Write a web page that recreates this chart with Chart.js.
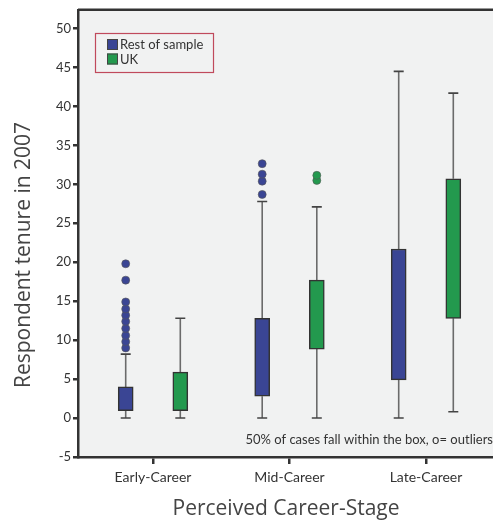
<!DOCTYPE html>
<html>
<head>
<meta charset="utf-8">
<script src="https://cdn.jsdelivr.net/npm/chart.js@4/dist/chart.umd.min.js"></script>
<style>
  html, body { margin: 0; padding: 0; background: #fff; overflow: hidden; }
  #wrap { position: relative; width: 493px; height: 524px; overflow: hidden; }
</style>
</head>
<body>
<div id="wrap"><canvas id="grafico"></canvas></div>
<script>
// ---------------------------------------------- DATOS ----------------------------------------------

const etapas = ["Early-Career", "Mid-Career", "Late-Career"];
const series = ["Rest of sample", "UK"];
const yTicks = [-5, 0, 5, 10, 15, 20, 25, 30, 35, 40, 45, 50];

// Rest of sample
const restMin = [0, 0, 0];
const restQ1 = [0.95, 2.8, 4.9];
const restQ3 = [4.0, 12.8, 21.7];
const restMax = [8.2, 27.8, 44.5];
const restOutliers = [
    [9.0, 9.8, 10.6, 11.5, 12.4, 13.2, 14.0, 14.9, 17.7, 19.8],
    [28.7, 30.4, 31.3, 32.65],
    []
];

// UK
const ukMin = [0, 0, 0.8];
const ukQ1 = [0.95, 8.85, 12.8];
const ukQ3 = [5.9, 17.7, 30.7];
const ukMax = [12.8, 27.1, 41.7];
const ukOutliers = [
    [],
    [30.5, 31.15],
    []
];

const nota = "50% of cases fall within the box, o= outliers";
const tituloY = "Respondent tenure in 2007";
const tituloX = "Perceived Career-Stage";

// ---------------------------------------------- ESTILO ----------------------------------------------

const azul = '#3a4594';
const verde = '#23994e';
const fondo = '#f1f2f2';
const fuente = 'Lato';
const fuenteTitulo = 'Open Sans';
const desplazamiento = 0.2; // separación de cada grupo respecto al centro de la categoría
const ancho = 493;

function cajas(q1, q3, signo) {
    return etapas.map((e, i) => ({ x: i + signo * desplazamiento, y: [q1[i], q3[i]] }));
}

const grupos = [
    { min: restMin, max: restMax, out: restOutliers, color: azul },
    { min: ukMin, max: ukMax, out: ukOutliers, color: verde }
];

// ------------------------------------------- PLUGIN BOXPLOT ----------------------------------------------

const pluginBoxplot = {
    id: 'boxplot',
    beforeDraw(chart) {
        const { ctx, chartArea } = chart;
        ctx.save();
        ctx.fillStyle = fondo;
        ctx.fillRect(chartArea.left, chartArea.top, chartArea.right - chartArea.left, chartArea.bottom - chartArea.top);
        ctx.restore();
    },
    beforeDatasetsDraw(chart) {
        const { ctx } = chart;
        const y = chart.scales.y;
        ctx.save();
        grupos.forEach((g, d) => {
            const meta = chart.getDatasetMeta(d);
            meta.data.forEach((bar, i) => {
                const x = bar.x;
                const q1 = chart.data.datasets[d].data[i].y[0];
                const q3 = chart.data.datasets[d].data[i].y[1];
                ctx.strokeStyle = '#6b6b6b';
                ctx.lineWidth = 1.6;
                ctx.beginPath();
                ctx.moveTo(x, y.getPixelForValue(q3));
                ctx.lineTo(x, y.getPixelForValue(g.max[i]));
                ctx.moveTo(x, y.getPixelForValue(q1));
                ctx.lineTo(x, y.getPixelForValue(g.min[i]));
                ctx.stroke();
                ctx.strokeStyle = '#444';
                ctx.lineWidth = 1.6;
                ctx.beginPath();
                ctx.moveTo(x - 5, y.getPixelForValue(g.max[i]));
                ctx.lineTo(x + 5, y.getPixelForValue(g.max[i]));
                ctx.moveTo(x - 5, y.getPixelForValue(g.min[i]));
                ctx.lineTo(x + 5, y.getPixelForValue(g.min[i]));
                ctx.stroke();
            });
        });
        ctx.restore();
    },
    afterDatasetsDraw(chart) {
        const { ctx } = chart;
        const y = chart.scales.y;
        ctx.save();
        // outliers
        grupos.forEach((g, d) => {
            const meta = chart.getDatasetMeta(d);
            meta.data.forEach((bar, i) => {
                g.out[i].forEach(v => {
                    ctx.beginPath();
                    ctx.arc(bar.x, y.getPixelForValue(v), 4, 0, Math.PI * 2);
                    ctx.fillStyle = g.color;
                    ctx.fill();
                    ctx.strokeStyle = '#555';
                    ctx.lineWidth = 0.6;
                    ctx.stroke();
                });
            });
        });
        ctx.restore();
    },
    afterDraw(chart) {
        const { ctx, chartArea } = chart;
        ctx.save();

        // el gráfico original está cortado a la derecha: sin borde derecho
        ctx.fillStyle = fondo;
        ctx.fillRect(chartArea.right - 6, chartArea.top + 1.5, 6, chartArea.bottom - chartArea.top - 3);

        // marco superior
        ctx.strokeStyle = '#333';
        ctx.lineWidth = 2.5;
        ctx.beginPath();
        ctx.moveTo(chartArea.left, chartArea.top);
        ctx.lineTo(ancho, chartArea.top);
        ctx.stroke();

        // leyenda
        ctx.strokeStyle = '#c04a5c';
        ctx.lineWidth = 1.2;
        ctx.strokeRect(95.5, 33.5, 118, 39);
        series.forEach((s, k) => {
            const top = 39 + k * 14.5;
            ctx.fillStyle = grupos[k].color;
            ctx.fillRect(107, top, 11, 11);
            ctx.strokeStyle = '#444';
            ctx.lineWidth = 1;
            ctx.strokeRect(107.5, top + 0.5, 10, 10);
            ctx.fillStyle = '#333';
            ctx.font = '13px ' + fuente;
            ctx.textAlign = 'left';
            ctx.textBaseline = 'middle';
            ctx.fillText(s, 120, top + 6);
        });

        // nota
        ctx.fillStyle = '#333';
        ctx.font = '13px ' + fuente;
        ctx.textAlign = 'right';
        ctx.textBaseline = 'middle';
        ctx.fillText(nota, 493, 440);

        // títulos de los ejes
        ctx.fillStyle = '#444';
        ctx.font = '21px "' + fuenteTitulo + '"';
        ctx.textAlign = 'center';
        ctx.textBaseline = 'middle';
        ctx.fillText(tituloX, 286, 509);
        ctx.save();
        ctx.translate(24, 255);
        ctx.rotate(-Math.PI / 2);
        ctx.fillText(tituloY, 0, 0);
        ctx.restore();
        ctx.restore();
    }
};

// ------------------------------------------- GRAFICO ----------------------------------------------

const configBoxplot = {
    type: 'bar',
    data: {
        datasets: [{
            label: series[0],
            data: cajas(restQ1, restQ3, -1),
            backgroundColor: azul,
            borderColor: '#333',
            borderWidth: 1.5,
            borderSkipped: false,
            barThickness: 15,
            grouped: false
        },
        {
            label: series[1],
            data: cajas(ukQ1, ukQ3, 1),
            backgroundColor: verde,
            borderColor: '#333',
            borderWidth: 1.5,
            borderSkipped: false,
            barThickness: 15,
            grouped: false
        }]
    },
    options: {
        responsive: false,
        animation: false,
        layout: { padding: { top: 9, right: 0, left: 0, bottom: 0 } },
        plugins: {
            legend: { display: false },
            tooltip: { enabled: false }
        },
        scales: {
            x: {
                type: 'linear',
                offset: false,
                min: (78 - 153) / 136.5,
                max: (ancho - 153) / 136.5,
                afterBuildTicks(scale) {
                    scale.ticks = etapas.map((e, i) => ({ value: i }));
                },
                afterFit(scale) { scale.height = 67; },
                ticks: {
                    callback: v => etapas[v],
                    color: '#333',
                    font: { family: fuente, size: 14 },
                    padding: 5,
                    maxRotation: 0
                },
                grid: {
                    offset: false,
                    drawOnChartArea: false,
                    drawTicks: true,
                    tickLength: 7,
                    color: '#333',
                    lineWidth: 2.5
                },
                border: { display: true, color: '#333', width: 2.5 }
            },
            y: {
                min: -5,
                max: 52.4,
                afterBuildTicks(scale) {
                    scale.ticks = yTicks.map(v => ({ value: v }));
                },
                afterFit(scale) { scale.width = 78; },
                ticks: {
                    color: '#333',
                    font: { family: fuente, size: 13 },
                    padding: 2
                },
                grid: {
                    drawOnChartArea: false,
                    drawTicks: true,
                    tickLength: 5,
                    color: '#333',
                    lineWidth: 2.5
                },
                border: { display: true, color: '#333', width: 2.5 }
            }
        }
    },
    plugins: [pluginBoxplot]
};

const lienzo = document.getElementById('grafico');
lienzo.width = ancho;
lienzo.height = 524;
var boxplotChart = new Chart(lienzo, configBoxplot);
</script>
</body>
</html>
